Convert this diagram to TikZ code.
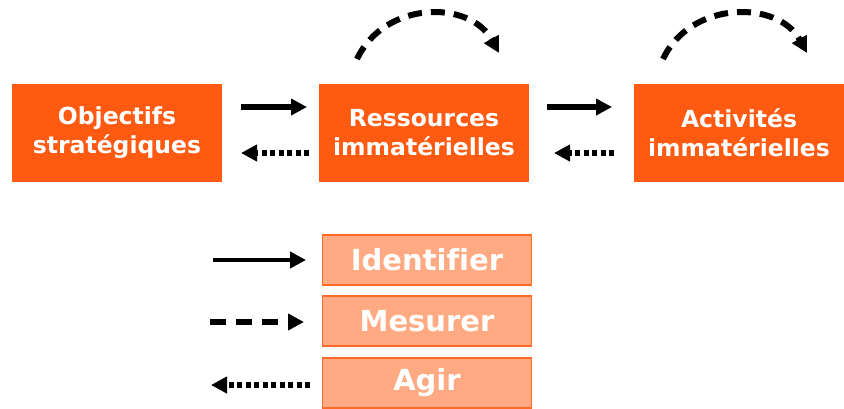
\documentclass[tikz,border=0pt]{standalone}
\usepackage{fontspec}
\setmainfont{DejaVu Sans}[Ligatures=NoCommon]
\usetikzlibrary{arrows.meta}
\definecolor{mainorange}{HTML}{FF5A12}
\definecolor{paleorange}{HTML}{FFAA82}
\definecolor{edgeorange}{HTML}{FF6A26}
\tikzset{
  x=1pt, y=-1pt,
  stagebox/.style={fill=mainorange, draw=none, minimum width=210pt, minimum height=98pt,
    text=white, font=\bfseries\fontsize{23.5}{29}\selectfont, align=center, inner sep=0pt},
  legendbox/.style={fill=paleorange, draw=edgeorange, line width=1.5pt, minimum width=209pt,
    minimum height=50pt, text=white, font=\bfseries\fontsize{29}{32}\selectfont, inner sep=0pt},
  tipshape/.style={-{Triangle[length=16pt, width=16pt]}},
  plainarrow/.style={line width=6.5pt, tipshape},
  dashedarrow/.style={line width=6pt, dash pattern=on 16pt off 10pt, tipshape},
  dottedarrow/.style={line width=6pt, dash pattern=on 5pt off 3.5pt, tipshape},
}
\begin{document}
\begin{tikzpicture}
\useasboundingbox (0,0) rectangle (844,408);

% stage boxes
\node[stagebox] (obj) at (117,133) {Objectifs\\stratégiques};
\node[stagebox] (res) at (424,133) {Ressources\\immatérielles};
\node[stagebox] (act) at (739,133) {Activités\\immatérielles};

% anchor points for the connectors between stages
\coordinate (o1) at (241,107); \coordinate (r1) at (307,107);
\coordinate (r2) at (309,153); \coordinate (o2) at (241,153);
\coordinate (r3) at (547,107); \coordinate (a1) at (612,107);
\coordinate (a2) at (614,153); \coordinate (r4) at (554,153);

\draw[plainarrow] (o1) -- (r1);
\draw[dottedarrow] (r2) -- (o2);
\draw[plainarrow] (r3) -- (a1);
\draw[dottedarrow] (a2) -- (r4);

% self loops above the boxes
\coordinate (rl1) at (357,59); \coordinate (rl2) at (499,53);
\coordinate (al1) at (663,59); \coordinate (al2) at (807,53);
\draw[dashedarrow, dash pattern=on 14pt off 9pt] (rl1) .. controls (385,0) and (470,0) .. (rl2);
\draw[dashedarrow, dash pattern=on 14pt off 9pt] (al1) .. controls (691,0) and (778,0) .. (al2);

% legend
\node[legendbox] (ident) at (427,260) {Identifier};
\node[legendbox] (mes) at (427,321) {Mesurer};
\node[legendbox] (agir) at (427,383) {Agir};

\coordinate (l1a) at (213,260); \coordinate (l1b) at (306,260);
\coordinate (l2a) at (210,322); \coordinate (l2b) at (304,322);
\coordinate (l3a) at (310,385); \coordinate (l3b) at (211,385);
\draw[plainarrow, line width=4.5pt] (l1a) -- (l1b);
\draw[dashedarrow] (l2a) -- (l2b);
\draw[dottedarrow] (l3a) -- (l3b);
\end{tikzpicture}
\end{document}
